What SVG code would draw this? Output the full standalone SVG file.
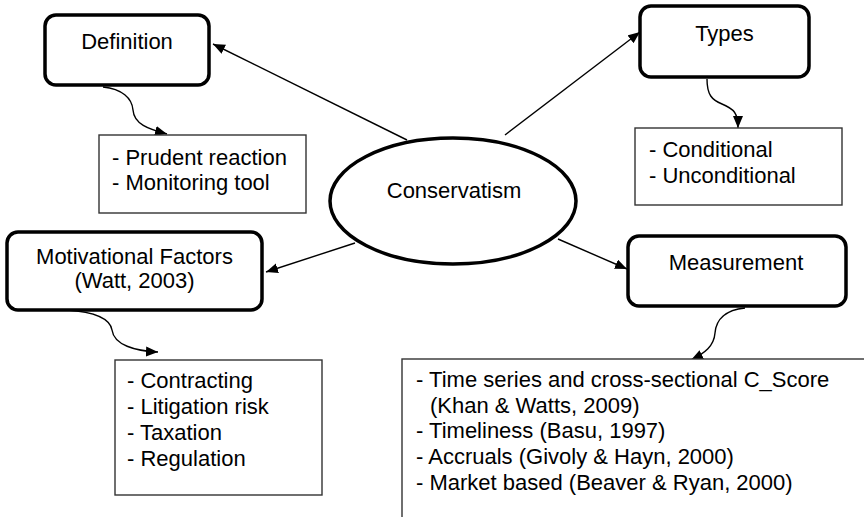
<svg xmlns="http://www.w3.org/2000/svg" width="864" height="517" viewBox="0 0 864 517">
<defs>
<style>
text{font-family:"Liberation Sans",Arial,sans-serif;font-size:22px;fill:#000}
.hub{fill:#fff;stroke:#000;stroke-width:3.5}
.topic{fill:#fff;stroke:#000;stroke-width:3.5}
.list{fill:#fff;stroke:#333;stroke-width:1.4}
.c{text-anchor:middle}
.edge{fill:none;stroke:#000;stroke-width:1.4}
</style>
<marker id="ah" markerUnits="userSpaceOnUse" markerWidth="14" markerHeight="12" refX="12" refY="5" orient="auto">
<path d="M0,0 L12,5 L0,10 z" fill="#000"/>
</marker>
</defs>
<rect width="864" height="517" fill="#fff"/>

<g id="connectors">
<line class="edge" x1="407" y1="140" x2="213" y2="44" marker-end="url(#ah)"/>
<line class="edge" x1="505" y1="135" x2="640" y2="32" marker-end="url(#ah)"/>
<line class="edge" x1="355" y1="243" x2="266" y2="272" marker-end="url(#ah)"/>
<line class="edge" x1="558" y1="239" x2="627" y2="269" marker-end="url(#ah)"/>
<path class="edge" d="M103,87 C122,89 132,98 133,110 C134,124 148,129 167,134" marker-end="url(#ah)"/>
<path class="edge" d="M707,79 C707,95 712,100 722,104 C734,109 738,113 738,128" marker-end="url(#ah)"/>
<path class="edge" d="M67,310 C95,312 110,318 112,330 C114,345 135,351 158,352" marker-end="url(#ah)"/>
<path class="edge" d="M745,308 C725,310 716,320 715,333 C714,346 705,353 691,360" marker-end="url(#ah)"/>
</g>

<g id="conservatism">
<ellipse class="hub" cx="453" cy="201" rx="123" ry="63"/>
<text class="c" x="454" y="198">Conservatism</text>
</g>

<g id="definition">
<rect class="topic" x="45" y="15" width="164" height="70" rx="11"/>
<text class="c" x="127" y="49">Definition</text>
</g>

<g id="definition-list">
<rect class="list" x="99" y="135" width="207" height="78"/>
<text x="112" y="165">- Prudent reaction</text>
<text x="112" y="190">- Monitoring tool</text>
</g>

<g id="types">
<rect class="topic" x="640" y="6" width="169" height="71" rx="11"/>
<text class="c" x="724.5" y="41">Types</text>
</g>

<g id="types-list">
<rect class="list" x="635" y="128" width="207" height="77"/>
<text x="649" y="157">- Conditional</text>
<text x="649" y="183">- Unconditional</text>
</g>

<g id="motivational">
<rect class="topic" x="7" y="232" width="255" height="78" rx="11"/>
<text class="c" x="134.5" y="264">Motivational Factors</text>
<text class="c" x="134.5" y="288">(Watt, 2003)</text>
</g>

<g id="motivational-list">
<rect class="list" x="115" y="360" width="207" height="135"/>
<text x="127" y="388">- Contracting</text>
<text x="127" y="414">- Litigation risk</text>
<text x="127" y="440">- Taxation</text>
<text x="127" y="466">- Regulation</text>
</g>

<g id="measurement">
<rect class="topic" x="628" y="236" width="218" height="70" rx="11"/>
<text class="c" x="736" y="270">Measurement</text>
</g>

<g id="measurement-list">
<rect class="list" x="402" y="359" width="480" height="180"/>
<text x="416" y="387">- Time series and cross-sectional C_Score</text>
<text x="430" y="413">(Khan &amp; Watts, 2009)</text>
<text x="416" y="438">- Timeliness (Basu, 1997)</text>
<text x="416" y="464">- Accruals (Givoly &amp; Hayn, 2000)</text>
<text x="416" y="490">- Market based (Beaver &amp; Ryan, 2000)</text>
</g>
</svg>
